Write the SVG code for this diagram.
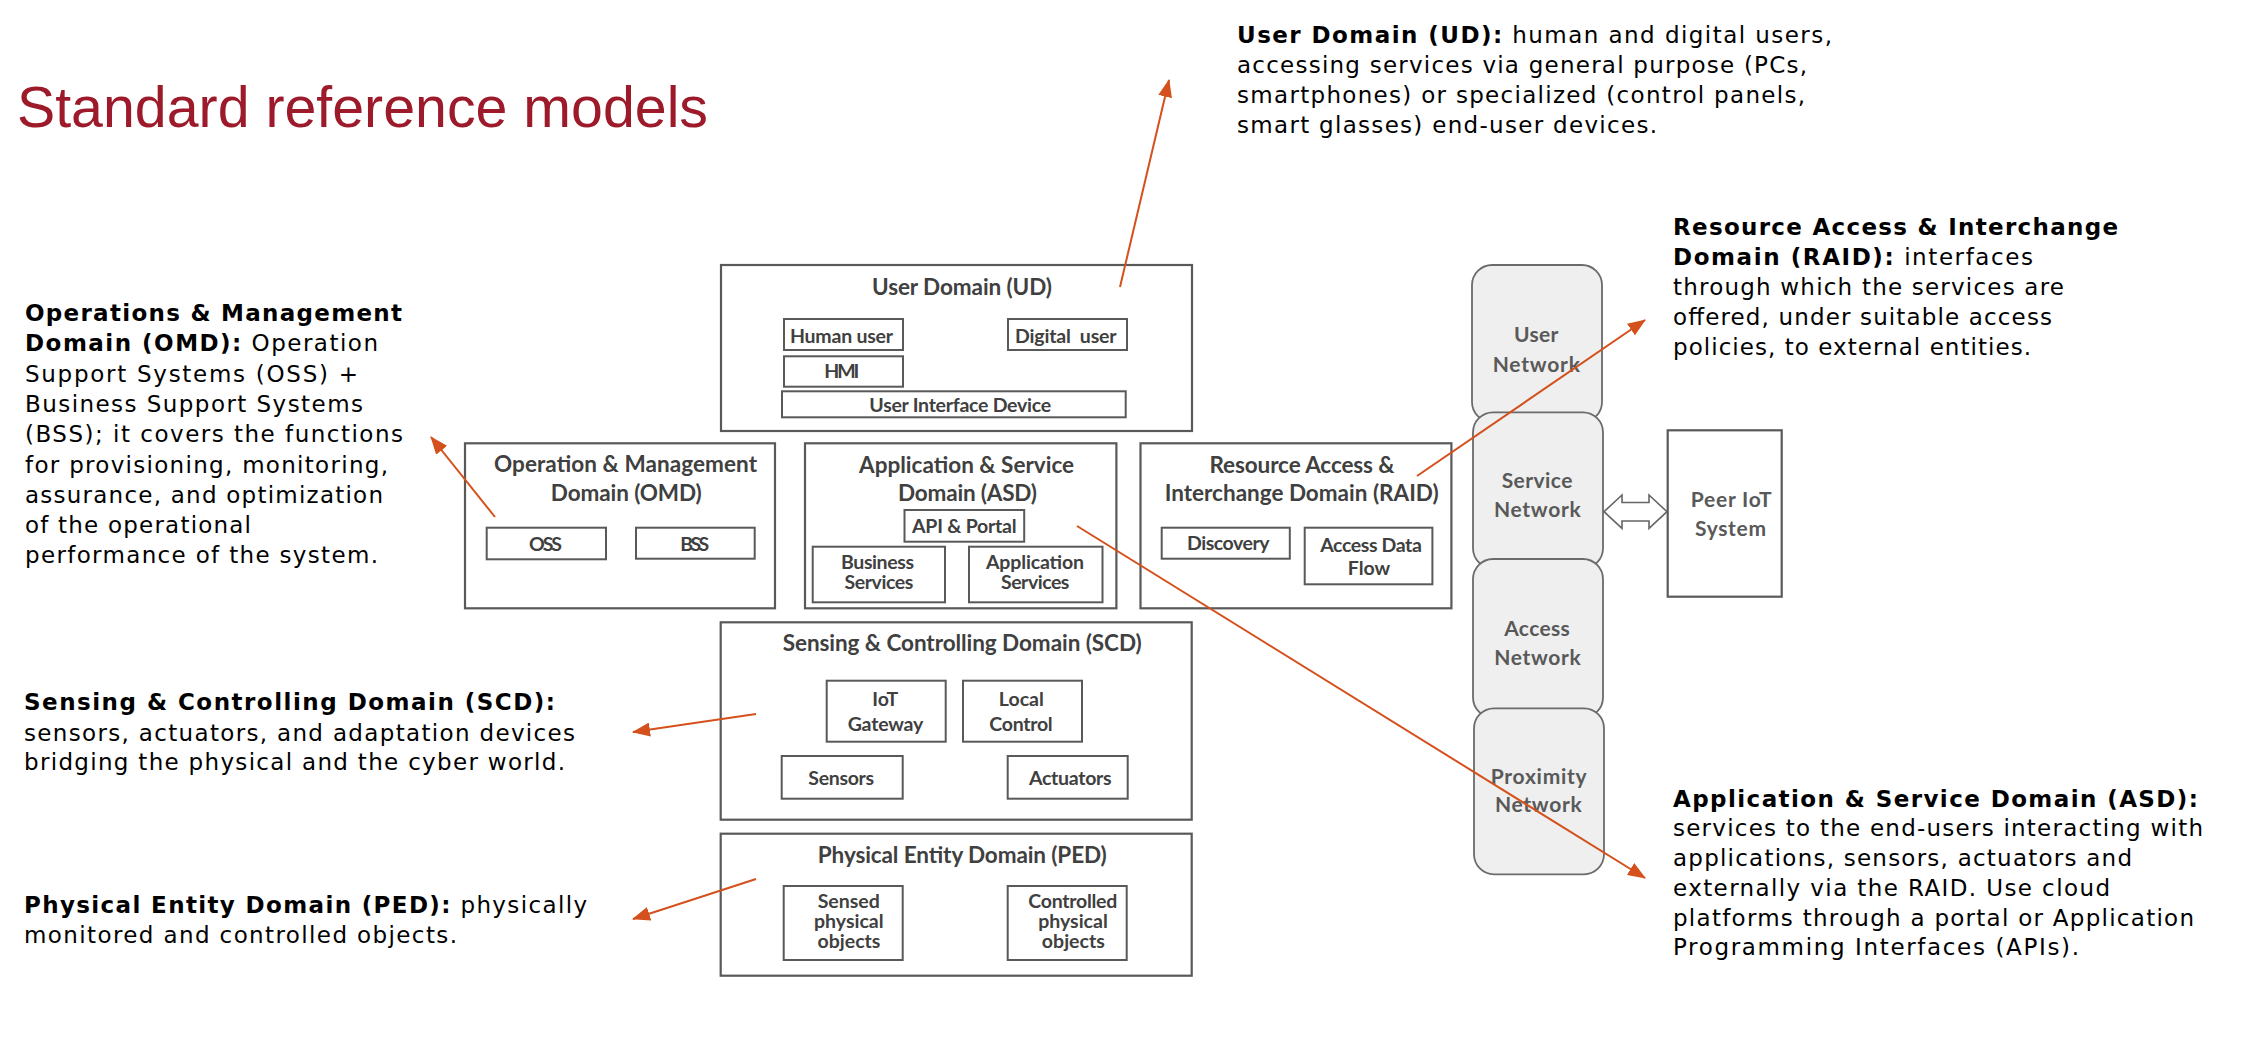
<svg xmlns="http://www.w3.org/2000/svg" width="2247" height="1051" viewBox="0 0 2247 1051">
<style>
.bx{fill:#fff;stroke:#595959;stroke-width:2.2}
.ib{fill:#fff;stroke:#595959;stroke-width:2}
.nw{fill:#eeefee;stroke:#6b6b6b;stroke-width:1.8}
.t{font-family:Lato,"Liberation Sans",sans-serif;font-weight:bold;fill:#404040;text-anchor:middle}
.tt{font-size:22.5px}
.il{font-size:19.5px}
.nl{font-family:Lato,"Liberation Sans",sans-serif;font-weight:bold;fill:#595959;text-anchor:middle;font-size:21px}
.d{font-family:"DejaVu Sans",Verdana,sans-serif;font-size:23px;fill:#000}
.b{font-weight:bold}
.c{fill:none;stroke:#d4501c;stroke-width:2}
</style>
<defs>
<marker id="ah" markerUnits="userSpaceOnUse" markerWidth="18" markerHeight="14" refX="17" refY="7" orient="auto" viewBox="0 0 18 14">
<path d="M0,0 L18,7 L0,14 Z" fill="#d4501c"/>
</marker>
</defs>

<text x="17" y="127" font-family="'Liberation Sans',Arial,sans-serif" font-size="57" fill="#9c1a2a" textLength="691" lengthAdjust="spacingAndGlyphs">Standard reference models</text>

<g id="ud">
<rect class="bx" x="721" y="265" width="471" height="166"/>
<text class="t tt" x="962" y="295" textLength="180">User Domain (UD)</text>
<rect class="ib" x="784" y="319" width="119" height="31"/>
<text class="t il" x="841.5" y="342.7" textLength="103">Human user</text>
<rect class="ib" x="1008" y="319" width="119" height="31"/>
<text class="t il" x="1065.8" y="342.7" textLength="101.7" xml:space="preserve">Digital  user</text>
<rect class="ib" x="784" y="356.3" width="119" height="30.4"/>
<text class="t il" x="841.8" y="378.3" textLength="35">HMI</text>
<rect class="ib" x="782" y="391.3" width="343.7" height="26"/>
<text class="t il" x="960.2" y="411.7" textLength="181.7">User Interface Device</text>
</g>

<g id="omd">
<rect class="bx" x="465" y="443.3" width="310" height="165"/>
<text class="t tt" x="625.5" y="472" textLength="263">Operation &amp; Management</text>
<text class="t tt" x="626.3" y="500.5" textLength="151">Domain (OMD)</text>
<rect class="ib" x="486.7" y="527.7" width="119.3" height="31.6"/>
<text class="t il" x="545.5" y="550.7" textLength="33">OSS</text>
<rect class="ib" x="636" y="527.7" width="118.7" height="31"/>
<text class="t il" x="694.7" y="550.7" textLength="29">BSS</text>
</g>

<g id="asd">
<rect class="bx" x="805" y="443.3" width="311.4" height="165"/>
<text class="t tt" x="966.6" y="472.5" textLength="215">Application &amp; Service</text>
<text class="t tt" x="967.5" y="500.5" textLength="139">Domain (ASD)</text>
<rect class="ib" x="904.5" y="510" width="119.7" height="31.7"/>
<text class="t il" x="964.3" y="532.7" textLength="104.6">API &amp; Portal</text>
<rect class="ib" x="812.7" y="546.7" width="132.3" height="55.6"/>
<text class="t il" x="877.5" y="569.3" textLength="73">Business</text>
<text class="t il" x="878.9" y="589.3" textLength="69">Services</text>
<rect class="ib" x="969" y="546.7" width="133.5" height="55.6"/>
<text class="t il" x="1035" y="569.3" textLength="98">Application</text>
<text class="t il" x="1035.2" y="589.3" textLength="68.5">Services</text>
</g>

<g id="raid">
<rect class="bx" x="1140.5" y="443.3" width="310.9" height="165"/>
<text class="t tt" x="1302" y="473" textLength="185">Resource Access &amp;</text>
<text class="t tt" x="1301.7" y="500.5" textLength="274">Interchange Domain (RAID)</text>
<rect class="ib" x="1161.7" y="527.7" width="128.1" height="31"/>
<text class="t il" x="1228.3" y="550" textLength="82.5">Discovery</text>
<rect class="ib" x="1304.7" y="527.7" width="127.7" height="56.6"/>
<text class="t il" x="1371" y="551.7" textLength="101.6">Access Data</text>
<text class="t il" x="1369" y="575">Flow</text>
</g>

<g id="scd">
<rect class="bx" x="720.7" y="622.3" width="471" height="197.4"/>
<text class="t tt" x="962.2" y="651" textLength="359">Sensing &amp; Controlling Domain (SCD)</text>
<rect class="ib" x="826.7" y="680.7" width="119" height="61"/>
<text class="t il" x="885.3" y="705.7">IoT</text>
<text class="t il" x="885.5" y="730.7" textLength="75.7">Gateway</text>
<rect class="ib" x="963" y="680.7" width="119" height="61"/>
<text class="t il" x="1021.3" y="705.7">Local</text>
<text class="t il" x="1021" y="730.7" textLength="63.3">Control</text>
<rect class="ib" x="781.7" y="756" width="121" height="42.7"/>
<text class="t il" x="841.2" y="785" textLength="65.7">Sensors</text>
<rect class="ib" x="1007.7" y="756" width="120" height="42.7"/>
<text class="t il" x="1070.3" y="785" textLength="82.7">Actuators</text>
</g>

<g id="ped">
<rect class="bx" x="720.7" y="833.7" width="471" height="142"/>
<text class="t tt" x="962.3" y="862.7" textLength="289">Physical Entity Domain (PED)</text>
<rect class="ib" x="783.7" y="886" width="119" height="74"/>
<text class="t il" x="848.7" y="908.3">Sensed</text>
<text class="t il" x="848.8" y="927.9">physical</text>
<text class="t il" x="849" y="947.7">objects</text>
<rect class="ib" x="1007.7" y="886" width="119" height="74"/>
<text class="t il" x="1072.8" y="908.3" textLength="89">Controlled</text>
<text class="t il" x="1073" y="927.9">physical</text>
<text class="t il" x="1073.3" y="947.7">objects</text>
</g>

<g id="user-network">
<rect class="nw" x="1472" y="265" width="130" height="157" rx="20" ry="20"/>
<text class="nl" x="1536.2" y="342" textLength="44.3">User</text>
<text class="nl" x="1536.3" y="372" textLength="87.3">Network</text>
</g>
<g id="service-network">
<rect class="nw" x="1473" y="412.3" width="130" height="156" rx="20" ry="20"/>
<text class="nl" x="1537" y="488.3" textLength="70.7">Service</text>
<text class="nl" x="1537.3" y="516.7" textLength="86.7">Network</text>
</g>
<g id="access-network">
<rect class="nw" x="1473" y="559" width="130" height="158.5" rx="20" ry="20"/>
<text class="nl" x="1537" y="636" textLength="65.7">Access</text>
<text class="nl" x="1537.5" y="664.5" textLength="86.4">Network</text>
</g>
<g id="proximity-network">
<rect class="nw" x="1474" y="708.3" width="130" height="166" rx="20" ry="20"/>
<text class="nl" x="1538.7" y="783.5" textLength="96">Proximity</text>
<text class="nl" x="1538.3" y="812" textLength="86.7">Network</text>
</g>

<g id="peer">
<rect class="bx" x="1667.7" y="430.3" width="114" height="166.4"/>
<text class="nl" x="1731.2" y="507.3" textLength="81">Peer IoT</text>
<text class="nl" x="1730.5" y="536" textLength="71">System</text>
</g>

<g id="txt-ud">
<text class="d" x="1237" y="42.7" textLength="595"><tspan class="b">User Domain (UD):</tspan> human and digital users,</text>
<text class="d" x="1237" y="72.7" textLength="570">accessing services via general purpose (PCs,</text>
<text class="d" x="1237" y="102.7" textLength="568">smartphones) or specialized (control panels,</text>
<text class="d" x="1237" y="132.7" textLength="420">smart glasses) end-user devices.</text>
</g>

<g id="txt-omd">
<text class="d b" x="25" y="321" textLength="377">Operations &amp; Management</text>
<text class="d" x="25" y="351.3" textLength="353"><tspan class="b">Domain (OMD):</tspan> Operation</text>
<text class="d" x="25" y="381.6" textLength="333">Support Systems (OSS) +</text>
<text class="d" x="25" y="411.9" textLength="338">Business Support Systems</text>
<text class="d" x="25" y="442.2" textLength="378">(BSS); it covers the functions</text>
<text class="d" x="25" y="472.5" textLength="363">for provisioning, monitoring,</text>
<text class="d" x="25" y="502.8" textLength="358">assurance, and optimization</text>
<text class="d" x="25" y="533.1" textLength="226">of the operational</text>
<text class="d" x="25" y="563.4" textLength="353">performance of the system.</text>
</g>

<g id="txt-raid">
<text class="d b" x="1673" y="235" textLength="445">Resource Access &amp; Interchange</text>
<text class="d" x="1673" y="265" textLength="360"><tspan class="b">Domain (RAID):</tspan> interfaces</text>
<text class="d" x="1673" y="295" textLength="391">through which the services are</text>
<text class="d" x="1673" y="325" textLength="379">offered, under suitable access</text>
<text class="d" x="1673" y="355" textLength="358">policies, to external entities.</text>
</g>

<g id="txt-scd">
<text class="d b" x="24" y="710" textLength="531">Sensing &amp; Controlling Domain (SCD):</text>
<text class="d" x="24" y="740.5" textLength="551">sensors, actuators, and adaptation devices</text>
<text class="d" x="24" y="770" textLength="541">bridging the physical and the cyber world.</text>
</g>

<g id="txt-ped">
<text class="d" x="24" y="913.3" textLength="563"><tspan class="b">Physical Entity Domain (PED):</tspan> physically</text>
<text class="d" x="24" y="943.3" textLength="433">monitored and controlled objects.</text>
</g>

<g id="txt-asd">
<text class="d b" x="1673" y="806.5" textLength="525">Application &amp; Service Domain (ASD):</text>
<text class="d" x="1673" y="836" textLength="530">services to the end-users interacting with</text>
<text class="d" x="1673" y="866" textLength="459">applications, sensors, actuators and</text>
<text class="d" x="1673" y="895.5" textLength="437">externally via the RAID. Use cloud</text>
<text class="d" x="1673" y="925.5" textLength="521">platforms through a portal or Application</text>
<text class="d" x="1673" y="955" textLength="406">Programming Interfaces (APIs).</text>
</g>

<g id="connectors">
<path d="M1604,511.7 L1622,495 L1622,502.5 L1649,502.5 L1649,495 L1667,511.7 L1649,528.3 L1649,521 L1622,521 L1622,528.3 Z" fill="#fff" stroke="#666" stroke-width="1.6"/>
<line class="c" x1="1120" y1="287" x2="1169" y2="80" marker-end="url(#ah)"/>
<line class="c" x1="495" y1="517" x2="431" y2="437" marker-end="url(#ah)"/>
<line class="c" x1="1417" y1="476" x2="1645" y2="320" marker-end="url(#ah)"/>
<line class="c" x1="1077" y1="526" x2="1645" y2="878" marker-end="url(#ah)"/>
<line class="c" x1="756" y1="714" x2="633" y2="732" marker-end="url(#ah)"/>
<line class="c" x1="756" y1="879" x2="633" y2="919" marker-end="url(#ah)"/>
</g>
</svg>
